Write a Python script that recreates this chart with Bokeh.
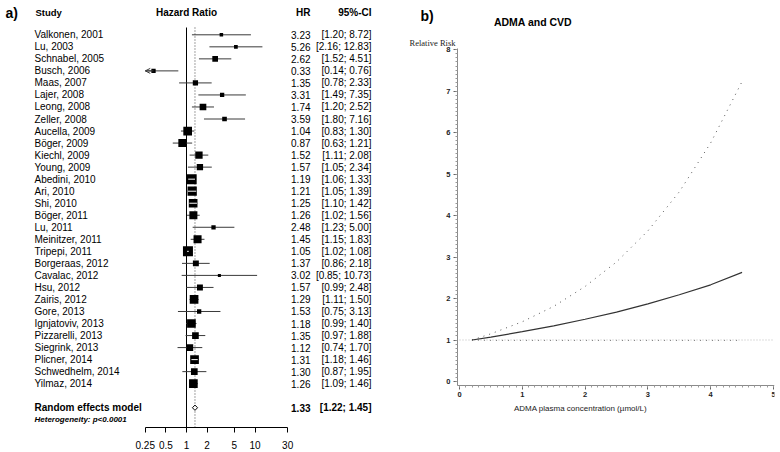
import numpy as np
from bokeh.plotting import figure
from bokeh.models import (Range1d, FixedTicker, CustomJSTickFormatter, ColumnDataSource,
                          Arrow, OpenHead, SingleIntervalTicker)
from bokeh.layouts import row
from bokeh.embed import file_html
from bokeh.resources import INLINE
from bokeh.core.properties import value

# ---------------- data: panel a) forest plot ----------------
studies = ["Valkonen, 2001", "Lu, 2003", "Schnabel, 2005", "Busch, 2006", "Maas, 2007",
           "Lajer, 2008", "Leong, 2008", "Zeller, 2008", "Aucella, 2009", "Böger, 2009",
           "Kiechl, 2009", "Young, 2009", "Abedini, 2010", "Ari, 2010", "Shi, 2010",
           "Böger, 2011", "Lu, 2011", "Meinitzer, 2011", "Tripepi, 2011", "Borgeraas, 2012",
           "Cavalac, 2012", "Hsu, 2012", "Zairis, 2012", "Gore, 2013", "Ignjatoviv, 2013",
           "Pizzarelli, 2013", "Siegrink, 2013", "Plicner, 2014", "Schwedhelm, 2014", "Yilmaz, 2014"]
hr = [3.23, 5.26, 2.62, 0.33, 1.35, 3.31, 1.74, 3.59, 1.04, 0.87,
      1.52, 1.57, 1.19, 1.21, 1.25, 1.26, 2.48, 1.45, 1.05, 1.37,
      3.02, 1.57, 1.29, 1.53, 1.18, 1.35, 1.12, 1.31, 1.30, 1.26]
ci_lower = [1.20, 2.16, 1.52, 0.14, 0.78, 1.49, 1.20, 1.80, 0.83, 0.63,
            1.11, 1.05, 1.06, 1.05, 1.10, 1.02, 1.23, 1.15, 1.02, 0.86,
            0.85, 0.99, 1.11, 0.75, 0.99, 0.97, 0.74, 1.18, 0.87, 1.09]
ci_upper = [8.72, 12.83, 4.51, 0.76, 2.33, 7.35, 2.52, 7.16, 1.30, 1.21,
            2.08, 2.34, 1.33, 1.39, 1.42, 1.56, 5.00, 1.83, 1.08, 2.18,
            10.73, 2.48, 1.50, 3.13, 1.40, 1.88, 1.70, 1.46, 1.95, 1.46]
weights = [0.8, 0.9, 2.1, 1.2, 1.8, 1.2, 2.9, 1.4, 4.9, 4.2,
           3.5, 2.6, 6.5, 5.6, 4.9, 4.2, 1.2, 4.2, 6.5, 2.3,
           0.6, 2.3, 4.9, 1.2, 4.9, 2.9, 2.9, 4.9, 2.9, 4.9]
pooled_label = "Random effects model"
pooled_hr = 1.33
pooled_lower = 1.22
pooled_upper = 1.45
heterogeneity = "Heterogeneity: p<0.0001"
hr_ticks = [0.25, 0.5, 1, 2, 5, 10, 30]

# ---------------- data: panel b) dose-response ----------------
conc = [0.2, 0.5, 1.0, 1.5, 2.0, 2.5, 3.0, 3.5, 4.0, 4.5]
rr = [1.00, 1.07, 1.20, 1.34, 1.50, 1.67, 1.87, 2.09, 2.33, 2.63]
rr_upper = [1.00, 1.15, 1.44, 1.81, 2.29, 2.88, 3.63, 4.57, 5.75, 7.23]
rr_lower = [1.00, 0.99, 0.99, 0.99, 0.99, 0.99, 0.99, 0.99, 0.99, 0.99]
rr_reference = 1.0
conc_ticks = [0, 1, 2, 3, 4, 5]
rr_ticks = [0, 1, 2, 3, 4, 5, 6, 7, 8]

SANS = "Liberation Sans"
SERIF = "Liberation Serif"

FRAME_H = 427
BOTTOM = 25

# ================= panel a) =================
W1 = 378
PX_DEC = 68.5               # pixels per decade
X1 = 186                    # x pixel of HR = 1
ROW0, ROW_H = 34.3, 12.03


def hx(px):
    return 10 ** ((px - X1) / PX_DEC)


def ry(py):
    return (py - ROW0) / ROW_H


p1 = figure(frame_width=W1, frame_height=FRAME_H, x_axis_type="log",
            x_range=Range1d(hx(0), hx(W1)), y_range=Range1d(ry(FRAME_H), ry(0)),
            output_backend="svg", toolbar_location=None, y_axis_location=None,
            min_border_left=0, min_border_right=0, min_border_top=0, min_border_bottom=BOTTOM,
            outline_line_color=None, background_fill_color="white", border_fill_color="white")
p1.grid.visible = False

n = len(studies)
rows = np.arange(n)
lo = np.array(ci_lower)
up = np.array(ci_upper)
h = np.array(hr)
sizes = 3.92 * np.sqrt(np.array(weights))
lo_c = np.maximum(lo, hr_ticks[0])
up_c = np.minimum(up, hr_ticks[-1])

src = ColumnDataSource(dict(y=rows, hr=h, lo=lo_c, up=up_c, size=sizes, name=studies,
                            hrt=["%.2f" % v for v in hr],
                            cit=["[%.2f; %.2f]" % (a, b) for a, b in zip(ci_lower, ci_upper)]))

# reference lines (null effect and pooled estimate)
p1.segment(x0=[1], x1=[1], y0=[ry(27)], y1=[ry(FRAME_H)], line_color="black", line_width=1)
p1.segment(x0=[pooled_hr], x1=[pooled_hr], y0=[ry(27)], y1=[ry(FRAME_H)],
           line_color="#444444", line_width=1, line_dash="1 2")

# CI lines, boxes
p1.segment(x0="lo", x1="up", y0="y", y1="y", source=src, line_color="#3a3a3a", line_width=1)
p1.scatter(x="hr", y="y", size="size", marker="square", source=src,
           fill_color="black", line_color="black", line_width=0)

# white CI where it lies completely inside the box
lpx = np.log10(h / lo) * PX_DEC
rpx = np.log10(up / h) * PX_DEC
inside = (lpx < sizes / 2) & (rpx < sizes / 2)
p1.segment(x0=lo[inside], x1=up[inside], y0=rows[inside], y1=rows[inside],
           line_color="white", line_width=1)

# arrows for CIs clipped at the axis limit
left_clip = lo < hr_ticks[0]
if left_clip.any():
    asrc = ColumnDataSource(dict(xs=h[left_clip], xe=lo_c[left_clip], y=rows[left_clip]))
    p1.add_layout(Arrow(end=OpenHead(size=5, line_color="#3a3a3a", line_width=1),
                        x_start="xs", y_start="y", x_end="xe", y_end="y", source=asrc,
                        line_color="#3a3a3a", line_width=1))

# pooled diamond
pr = n + 1
p1.patch(x=[pooled_lower, pooled_hr, pooled_upper, pooled_hr],
         y=[pr, pr - 0.22, pr, pr + 0.22], fill_color="white", line_color="black", line_width=1)

# text columns
p1.text(x=hx(34), y="y", text="name", source=src, text_font=value(SANS),
        text_font_size="10px", text_baseline="middle", text_align="left", text_color="black")
p1.text(x=hx(310), y="y", text="hrt", source=src, text_font=value(SANS),
        text_font_size="10px", text_baseline="middle", text_align="right", text_color="black")
p1.text(x=hx(371), y="y", text="cit", source=src, text_font=value(SANS),
        text_font_size="10px", text_baseline="middle", text_align="right", text_color="black")

hy = ry(12)
p1.text(x=[hx(5)], y=[hy], text=["a)"], text_font=value(SANS), text_font_size="14px",
        text_font_style="bold", text_baseline="middle", text_align="left")
p1.text(x=[hx(35)], y=[hy], text=["Study"], text_font=value(SANS), text_font_size="9.5px",
        text_font_style="bold", text_baseline="middle", text_align="left")
p1.text(x=[1], y=[hy], text=["Hazard Ratio"], text_font=value(SANS), text_font_size="10px",
        text_font_style="bold", text_baseline="middle", text_align="center")
p1.text(x=[hx(310)], y=[hy], text=["HR"], text_font=value(SANS), text_font_size="10px",
        text_font_style="bold", text_baseline="middle", text_align="right")
p1.text(x=[hx(371)], y=[hy], text=["95%-CI"], text_font=value(SANS), text_font_size="10px",
        text_font_style="bold", text_baseline="middle", text_align="right")

p1.text(x=[hx(34)], y=[pr], text=[pooled_label], text_font=value(SANS), text_font_size="10px",
        text_font_style="bold", text_baseline="middle", text_align="left")
p1.text(x=[hx(310)], y=[pr], text=["%.2f" % pooled_hr], text_font=value(SANS),
        text_font_size="10px", text_font_style="bold", text_baseline="middle", text_align="right")
p1.text(x=[hx(371)], y=[pr], text=["[%.2f; %.2f]" % (pooled_lower, pooled_upper)],
        text_font=value(SANS), text_font_size="10px", text_font_style="bold",
        text_baseline="middle", text_align="right")
p1.text(x=[hx(34)], y=[n + 2], text=[heterogeneity], text_font=value(SANS),
        text_font_size="8px", text_font_style="bold italic", text_baseline="middle", text_align="left")

ax = p1.xaxis[0]
ax.ticker = FixedTicker(ticks=hr_ticks)
ax.formatter = CustomJSTickFormatter(code="return tick.toString()")
ax.bounds = (hr_ticks[0], hr_ticks[-1])
ax.major_tick_out = 5
ax.major_tick_in = 0
ax.minor_tick_line_color = None
ax.axis_line_color = "black"
ax.major_tick_line_color = "black"
ax.major_label_text_font = SANS
ax.major_label_text_font_size = "10px"
ax.major_label_text_color = "black"
ax.major_label_standoff = 8

# ================= panel b) =================
X0P, SXP = 459, 62.8     # x pixel of concentration 0, pixels per unit
Y0P, SYP = 381, 41.5     # y pixel of RR 0, pixels per unit
P2_LEFT, P2_RIGHT = 378, 774


def bx(px):
    return (px - X0P) / SXP


def by(py):
    return (Y0P - py) / SYP


W2 = P2_RIGHT - P2_LEFT
p2 = figure(frame_width=W2, frame_height=FRAME_H,
            x_range=Range1d(bx(P2_LEFT), bx(P2_RIGHT)), y_range=Range1d(by(FRAME_H), by(0)),
            output_backend="svg", toolbar_location=None,
            min_border_left=0, min_border_right=5, min_border_top=0, min_border_bottom=BOTTOM,
            outline_line_color=None, background_fill_color="white", border_fill_color="white")
p2.grid.visible = False

y_axis_x = bx(457)
x_axis_y = by(384.5)

p2.segment(x0=[conc_ticks[0]], x1=[conc_ticks[-1]], y0=[rr_reference], y1=[rr_reference],
           line_color="#bbbbbb", line_width=1, line_dash="1 2")
p2.line(conc, rr_lower, line_color="#777777", line_width=1, line_dash="1 5")
p2.line(conc, rr_upper, line_color="#555555", line_width=1, line_dash="1 5")
p2.line(conc, rr, line_color="#333333", line_width=1.2)

xa = p2.xaxis[0]
ya = p2.yaxis[0]
xa.fixed_location = x_axis_y
ya.fixed_location = y_axis_x
xa.bounds = (y_axis_x, conc_ticks[-1] + 0.02)
ya.bounds = (x_axis_y, rr_ticks[-1] + 0.03)
for axis in (xa, ya):
    axis.ticker = SingleIntervalTicker(interval=1, num_minor_ticks=10)
    axis.axis_line_color = "#8a8a8a"
    axis.major_tick_line_color = "#666666"
    axis.minor_tick_line_color = "#9a9a9a"
    axis.major_tick_out = 4
    axis.major_tick_in = 0
    axis.minor_tick_out = 2
    axis.minor_tick_in = 0
    axis.major_label_text_font = SANS
    axis.major_label_text_font_size = "7.5px"
    axis.major_label_text_font_style = "bold"
    axis.major_label_text_color = "#222222"
    axis.major_label_standoff = 3

p2.text(x=[bx(420)], y=[by(15)], text=["b)"], text_font=value(SANS), text_font_size="14px",
        text_font_style="bold", text_baseline="middle", text_align="left")
p2.text(x=[bx(532.5)], y=[by(21.7)], text=["ADMA and CVD"], text_font=value(SANS),
        text_font_size="10.5px", text_font_style="bold", text_baseline="middle", text_align="center")
p2.text(x=[bx(455)], y=[by(42.5)], text=["Relative Risk"], text_font=value(SERIF),
        text_font_size="8.5px", text_baseline="middle", text_align="right", text_color="#222222")
p2.text(x=[bx(580)], y=[by(407.5)], text=["ADMA plasma concentration (µmol/L)"],
        text_font=value(SANS), text_font_size="8px", text_baseline="middle",
        text_align="center", text_color="#222222")

layout = row(p1, p2)
open("out.html", "w").write(file_html(layout, INLINE))
